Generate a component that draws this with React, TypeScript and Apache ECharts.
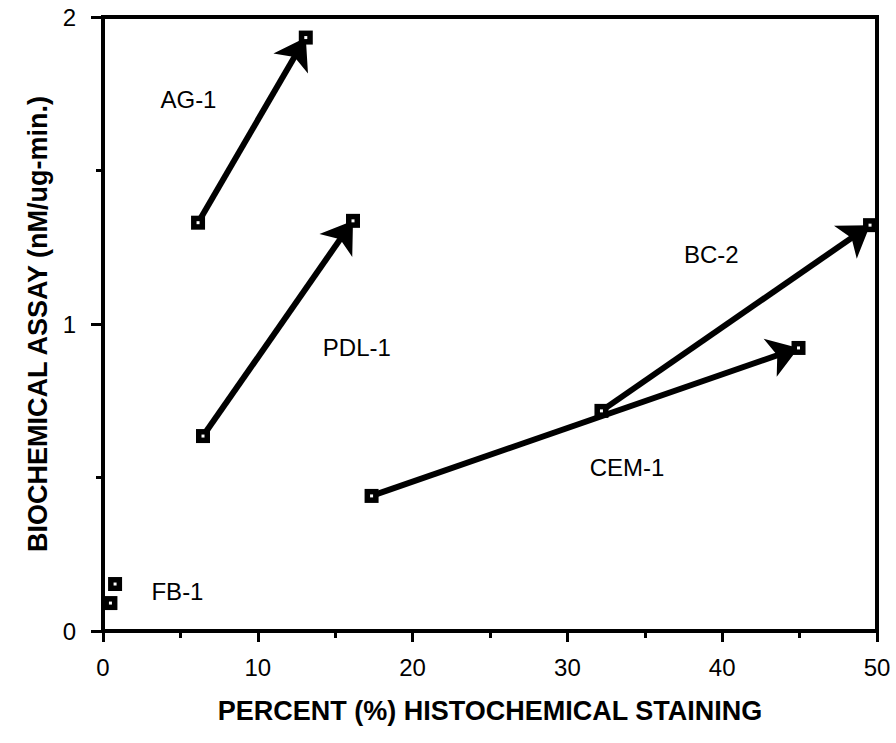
import React, { useEffect, useRef } from "react";
import * as echarts from "echarts";

const arrowNames = ["AG-1", "PDL-1", "CEM-1", "BC-2"];
const startX = [6.14, 6.46, 17.35, 32.2];
const startY = [1.33, 0.635, 0.44, 0.717];
const endX = [13.1, 16.15, 44.93, 49.55];
const endY = [1.933, 1.336, 0.922, 1.322];

const fbX = [0.78, 0.48];
const fbY = [0.153, 0.091];

const labelNames = ["AG-1", "PDL-1", "CEM-1", "BC-2", "FB-1"];
const labelX = [5.52, 16.4, 33.85, 39.3, 4.81];
const labelY = [1.73, 0.922, 0.531, 1.228, 0.13];

const xTicks = [0, 10, 20, 30, 40, 50];
const yTicks = [0, 1, 2];

const FONT = "'Liberation Sans', Arial, Helvetica, sans-serif";

export default function App() {
  const ref = useRef<HTMLDivElement>(null);
  useEffect(() => {
    if (!ref.current) return;
    const chart = echarts.init(ref.current, null, { renderer: "svg" });
    const points: number[][] = [];
    arrowNames.forEach((_, i) => {
      points.push([startX[i], startY[i]]);
      points.push([endX[i], endY[i]]);
    });
    fbX.forEach((x, i) => points.push([x, fbY[i]]));

    chart.setOption({
      animation: false,
      backgroundColor: "#fff",
      grid: {
        left: 103,
        right: 19,
        top: 17,
        bottom: 112,
        show: true,
        borderColor: "#000",
        borderWidth: 4,
      },
      xAxis: {
        type: "value",
        min: 0,
        max: 50,
        interval: 10,
        name: "PERCENT (%) HISTOCHEMICAL STAINING",
        nameLocation: "middle",
        nameGap: 66,
        nameTextStyle: { fontFamily: FONT, fontWeight: "bold", fontSize: 27, color: "#000" },
        axisLine: { show: true, onZero: false, lineStyle: { color: "#000", width: 4 } },
        axisTick: { show: true, inside: false, length: 11, lineStyle: { color: "#000", width: 3 } },
        minorTick: { show: true, splitNumber: 2, length: 7, lineStyle: { color: "#000", width: 3 } },
        splitLine: { show: false },
        axisLabel: {
          margin: 24,
          fontFamily: FONT,
          fontSize: 24,
          color: "#000",
          formatter: (v: number) => (xTicks.includes(v) ? String(v) : ""),
        },
      },
      yAxis: {
        type: "value",
        min: 0,
        max: 2,
        interval: 1,
        name: "BIOCHEMICAL ASSAY (nM/ug-min.)",
        nameLocation: "middle",
        nameGap: 46,
        nameTextStyle: { fontFamily: FONT, fontWeight: "bold", fontSize: 27, color: "#000" },
        axisLine: { show: true, onZero: false, lineStyle: { color: "#000", width: 4 } },
        axisTick: { show: true, inside: false, length: 12, lineStyle: { color: "#000", width: 3 } },
        minorTick: { show: true, splitNumber: 2, length: 7, lineStyle: { color: "#000", width: 3 } },
        splitLine: { show: false },
        axisLabel: {
          margin: 27,
          fontFamily: FONT,
          fontSize: 24,
          color: "#000",
          formatter: (v: number) => (yTicks.includes(v) ? String(v) : ""),
        },
      },
      series: [
        {
          type: "lines",
          coordinateSystem: "cartesian2d",
          z: 2,
          symbol: ["none", "arrow"],
          symbolSize: 30,
          symbolOffset: [0, 12],
          lineStyle: { color: "#000", width: 6, opacity: 1 },
          data: arrowNames.map((n, i) => ({
            name: n,
            coords: [
              [startX[i], startY[i]],
              [endX[i], endY[i]],
            ],
          })),
        },
        {
          type: "scatter",
          z: 3,
          symbol: "rect",
          symbolSize: 14,
          itemStyle: { color: "#000", opacity: 1 },
          data: points,
        },
        {
          type: "scatter",
          z: 4,
          symbol: "rect",
          symbolSize: 3,
          itemStyle: { color: "#fff", opacity: 1 },
          data: points,
        },
        {
          type: "scatter",
          z: 5,
          symbolSize: 1,
          itemStyle: { color: "rgba(255,255,255,0)" },
          label: {
            show: true,
            position: "inside",
            formatter: (p: any) => p.name,
            fontFamily: FONT,
            fontSize: 24,
            color: "#000",
            textBorderWidth: 0,
            textBorderColor: "transparent",
            opacity: 1,
          },
          data: labelNames.map((n, i) => ({ name: n, value: [labelX[i], labelY[i]] })),
        },
      ],
    });
    return () => chart.dispose();
  }, []);
  return (
    <div
      ref={ref}
      style={{ position: "absolute", left: 0, top: 0, width: 896, height: 743 }}
    />
  );
}
